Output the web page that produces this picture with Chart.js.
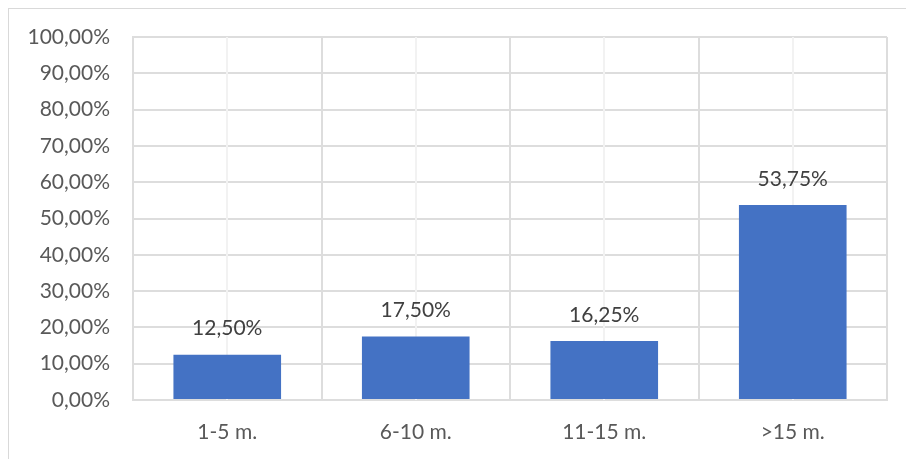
<!DOCTYPE html>
<html><head><meta charset="utf-8">
<script src="https://cdn.jsdelivr.net/npm/chart.js@4/dist/chart.umd.min.js"></script>
<style>
html,body{margin:0;padding:0;background:#fff;}
#wrap{position:absolute;left:0;top:0;width:906px;height:459px;}
#frame{position:absolute;left:8px;top:8px;width:898px;height:451px;border-top:1px solid #d9d9d9;border-left:1px solid #d9d9d9;box-sizing:border-box;}
canvas{position:absolute;left:0;top:0;}
</style></head><body>
<div id="wrap"><div id="frame"></div><canvas id="c" width="906" height="459"></canvas></div>
<script>
const categories = ['1-5 m.', '6-10 m.', '11-15 m.', '>15 m.'];
const values = [12.50, 17.50, 16.25, 53.75];
const yMin = 0, yMax = 100, yMajorStep = 10, yMinorStep = 5;

const FONT = 'Lato, "Open Sans", sans-serif';
const FS = 21;
const fmt = v => v.toFixed(2).replace('.', ',') + '%';

const centerLines = {
  id: 'centerLines',
  beforeDatasetsDraw(chart) {
    const {ctx, chartArea: a, scales: {x}} = chart;
    ctx.save();
    ctx.strokeStyle = '#f2f2f2';
    ctx.lineWidth = 2;
    categories.forEach((c, i) => {
      const px = Math.round(x.getPixelForValue(i));
      ctx.beginPath(); ctx.moveTo(px, a.top); ctx.lineTo(px, a.bottom); ctx.stroke();
    });
    ctx.restore();
  }
};
const dataLabels = {
  id: 'dataLabels',
  afterDatasetsDraw(chart) {
    const {ctx} = chart;
    const meta = chart.getDatasetMeta(0);
    ctx.save();
    ctx.font = FS + 'px ' + FONT;
    ctx.fillStyle = '#404040';
    ctx.textAlign = 'center';
    ctx.textBaseline = 'middle';
    meta.data.forEach((bar, i) => {
      ctx.fillText(fmt(values[i]), bar.x, bar.y - 26);
    });
    ctx.restore();
  }
};

new Chart(document.getElementById('c'), {
  type: 'bar',
  data: { labels: categories, datasets: [{ data: values, backgroundColor: '#4472C4', categoryPercentage: 1, barPercentage: 0.571 }] },
  options: {
    responsive: false, animation: false, devicePixelRatio: 1,
    layout: { padding: { left: 0, top: 37, right: 19, bottom: 0 } },
    plugins: { legend: { display: false }, tooltip: { enabled: false } },
    scales: {
      x: {
        afterFit(s) { s.height = 59; },
        grid: { color: '#dddddd', offset: true, drawTicks: false, lineWidth: 2 },
        border: { color: '#dddddd', width: 2 },
        ticks: { color: '#595959', font: { family: FONT, size: FS }, padding: 20 }
      },
      y: {
        min: yMin, max: yMax,
        afterFit(s) { s.width = 133; },
        grid: { drawTicks: false, lineWidth: 2, color: c => (c.tick && Math.round(c.tick.value) % yMajorStep === 0) ? '#dddddd' : '#f2f2f2' },
        border: { color: '#dddddd', width: 2 },
        ticks: { stepSize: yMinorStep, color: '#595959', font: { family: FONT, size: FS }, padding: 23,
          callback: v => (Math.round(v) % yMajorStep === 0) ? fmt(v) : '' }
      }
    }
  },
  plugins: [centerLines, dataLabels]
});
</script>
</body></html>
